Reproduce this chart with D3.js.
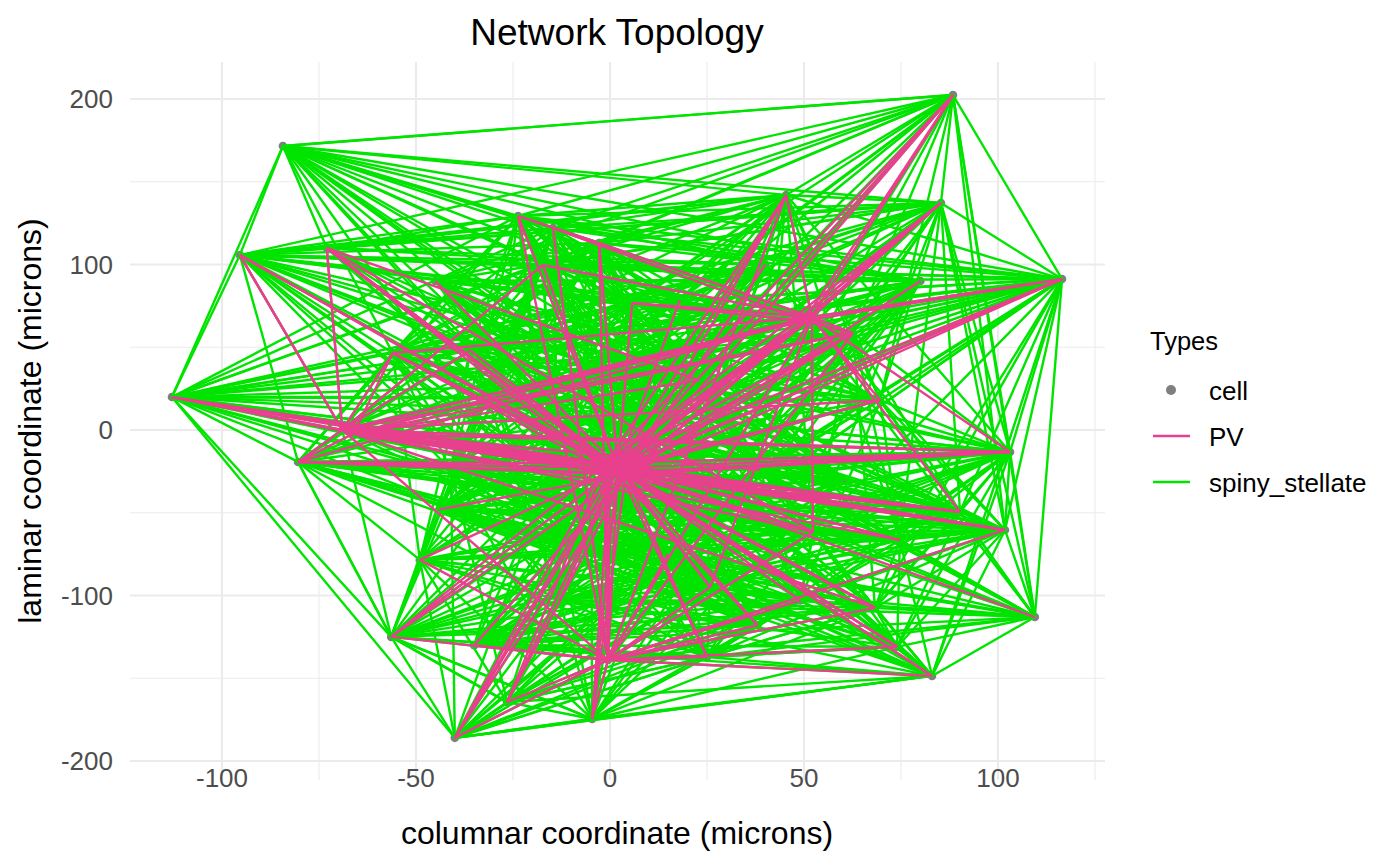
<!DOCTYPE html>
<html><head><meta charset="utf-8">
<script src="https://cdn.jsdelivr.net/npm/d3@7"></script>
<style>body{margin:0;background:#fff}svg{display:block}text{font-family:"Liberation Sans",Arial,sans-serif}</style>
</head><body><div id="chart"></div>
<script>
// node coordinates (microns): columnar (x) and laminar (y)
const nodeX = [88.4,-84.3,-95.4,-112.9,-23.7,-14.7,-2.8,45.4,85.3,116.5,103.1,101.8,109.5,83.0,25.0,-4.6,-40.0,-56.4,-80.4,
  2.0,-0.5,52.0,-69.0,-73.0,-17.3,5.7,62.6,-56.0,90.2,52.3,-26.5,68.3,74.0,25.8,-36,23,-13,38.7,69.6,-41,18,-13,49,-49,74.7,-66,50,0,
  4,-1,-30,30,-20,40,-45,10,60,-44,15,-35,38,80,-5];
const nodeY = [202.4,171.6,105.7,19.9,129.3,122.0,113.0,142.0,137.2,91.2,-13.3,-60.4,-113.0,-148.6,-137.2,-174.6,-186.0,-125.0,-19.3,
  -23.0,-139.0,68.3,0.0,110.0,99.7,76.7,58.6,46.5,-49.5,-61.6,-164.4,-107.5,-131.0,-94.9,48,30,-66,-24,18,-24,78.5,-103,-103,-78.5,-66.5,-2,66,-26,
  -27,-20,20,-50,-40,100,90,10,-30,-48,-75,-130,-118,90,40];

// PV connections: source -> targets
const pvSources = [19,47,48,49,20,21,46,22,45,23,2,4];
const pvTargets = [
  [0,2,3,4,6,7,8,9,10,11,12,13,14,15,16,17,18,20,21,22,23,24,25,26,27,28,29,30,31,32,33,34,38,40,41,42,43,44,45,46],
  [21,46,22,45,26,38,9,8,20,23,27,18,10,28,15,16],
  [0,2,3,7,8,9,10,11,13,14,15,16,17,18,21,22,23,26,27,28,29,30,31,32,33,46,45,61,53,54,57,59,60],
  [3,2,21,46,22,45,26,10,11,28,44,31,9,8,0,7,27,23,18,17,16,20,30,32,60],
  [4,5,6,7,14,15,16,17,21,26,29,30,31,32,33,42,13,11,43,22,58,59,60],
  [0,6,7,8,9,22,26,27,24,25,38,10,28,29,33,45,18],
  [0,8,9,22,45,25,5,26],
  [3,2,18,23,27,24,34,26,28,29,10,11,31,37,38],
  [3,18,27,35,26,28,10,44],
  [22,35,29],
  [22],
  [6]
];

// spiny_stellate connections: source -> targets
const ssSources = [0,1,2,3,4,5,6,7,8,9,10,11,12,13,14,15,16,17,18,24,25,26,27,28,29,30,31,32,33,34,35,36,37,38,39,40,41,42,43,
  50,51,52,53,54,55,56,57,58,59,60,61,62];
const ssTargets = [
  [1,2,4,5,6,7,8,9,10,11,24,25,26,21,38,35,40,19,12],
  [0,2,3,4,5,6,7,8,9,24,25,26,34,35,40,27,19,37,23],
  [3,4,5,6,7,8,9,23,24,25,26,27,34,35,40,19,22,18,38,21,36,39],
  [18,17,16,22,27,34,35,24,25,26,21,38,19,39,10,28,37,11,4,5,6],
  [5,6,7,8,9,23,24,25,27,34,35,40,19,36,39,22,18,41,33,21,26,38],
  [6,7,8,9,24,25,34,35,36,39,19,41,43,17,37,29,40,27],
  [7,8,9,24,25,35,40,36,19,37,41,33,29,38,26,27,34,39,18],
  [8,9,21,26,38,25,40,24,35,19,37,29,10,23,34,27,44],
  [9,10,11,21,26,38,25,35,40,24,34,27,23,37,28,44,12,29],
  [10,11,12,13,21,26,38,28,44,35,40,25,24,34,37,29,31,19,22,18,27],
  [11,12,13,28,44,31,32,38,26,37,29,35,19,36,39,22,18,42,33,14,41],
  [12,13,28,44,31,32,42,37,29,33,36,14,19,39,43,20,41,38,35,22],
  [13,32,31,44,28,42,29,33,14,20,37,38,36,41],
  [14,15,16,20,30,32,31,42,33,41,44,29,36,37],
  [15,16,17,20,30,41,33,42,31,32,36,43,44,29],
  [16,17,30,20,41,43,36,33,42,31,14,32,39],
  [17,30,20,41,43,36,33,14,15,13,42,39],
  [18,43,39,36,41,30,20,33,14,19,29,37,42,31,22,15],
  [22,39,43,36,19,37,29,28,44,10,11,42,33,41,17,31,32,34,27],
  [25,34,35,40,36,39,19,37,41,22,27,38,26,29,43,33],
  [34,35,40,36,37,38,26,19,39,29,41,33,27,22,43],
  [35,37,38,28,29,44,40,36,19,33,31,42,39,34,27,22],
  [34,39,22,18,43,36,19,35,37,38,29,28,41,33],
  [29,44,37,38,31,32,42,33,36,39,35,19,41],
  [33,36,37,42,44,31,41,39,43,35,19,14,20],
  [41,43,36,33,20,39,17,14,42,29],
  [32,42,33,14,36,41,37,29,44,20],
  [42,33,14,20,41,36,29,44],
  [36,41,42,37,39,43,19,35],
  [35,39,40,36,22,27,37,38,41,43,19],
  [36,37,38,39,40,41,42,43,44,19],
  [37,39,41,42,43,44,19],
  [38,39,41,42,44,19],
  [39,40,44,42,28],
  [41,43,42,44,19],
  [41,42,39,36],
  [42,43,44],
  [43,44],
  [44],
  [2,3,4,5,6,7,8,9,10,11,12,13,14,17,18,21,24,25,26,28,29,31,33,36,37,38,41,42,44,56,58,60,61],
  [0,1,2,3,4,5,6,7,8,9,10,12,13,15,16,17,18,22,23,24,27,30,34,39,43,54,57,59,62],
  [0,1,2,3,7,8,9,10,11,12,13,14,21,26,28,31,32,38,44,53,56,60,61,62],
  [1,2,3,4,18,22,23,27,34,39,43,17,16,15,20,30,36,41,57,59,19,11,12],
  [0,7,8,9,10,11,12,13,21,26,28,29,31,32,38,44,56,60,61,14,33,42],
  [0,1,2,3,4,7,8,9,10,11,12,13,14,15,16,17,18,22,23,24,27,28,30,31,32,34,39,43,57,59,60,61],
  [1,2,3,4,5,6,17,18,22,23,24,27,34,39,43,57,59,62,16,15,30],
  [0,7,8,9,10,11,12,13,14,21,26,28,29,31,32,38,44,60,61,42,33,5,6],
  [0,1,2,3,4,7,8,9,10,11,12,13,16,17,18,22,23,27,34,39,43,57,59,61,54],
  [0,7,8,9,10,11,12,13,14,21,26,28,29,31,32,38,44,60,61,42,33,6,25],
  [2,3,4,5,6,16,17,18,22,23,24,27,34,39,43,62,36,41,30],
  [1,2,3,4,5,6,17,18,22,23,24,27,34,39,43,62,36,41,16,15,14,20,30],
  [0,1,3,7,8,9,10,11,12,13,14,15,16,17,18,21,26,28,29,31,32,38,44,42,33,2]
];

const xTicks = [-100,-50,0,50,100];
const yTicks = [-200,-100,0,100,200];
const xMinor = [-75,-25,25,75,125];
const yMinor = [-150,-50,50,150];
const legendTypes = ["cell","PV","spiny_stellate"];
const colPV = "#E8408E", colSS = "#00E400", colCell = "#7F7F7F";

const W = 1400, H = 865;
const P = {l:130, r:1105, t:62, b:780};
const x = d3.scaleLinear().domain([-100,100]).range([222,998]);
const y = d3.scaleLinear().domain([-200,200]).range([761,99]);

const svg = d3.select("#chart").append("svg").attr("width",W).attr("height",H);

// grid
const g = svg.append("g");
g.selectAll(".xm").data(xMinor.filter(v=>x(v)>=P.l&&x(v)<=P.r)).join("line")
  .attr("x1",d=>x(d)).attr("x2",d=>x(d)).attr("y1",P.t).attr("y2",P.b)
  .attr("stroke","#EBEBEB").attr("stroke-width",1.1);
g.selectAll(".ym").data(yMinor).join("line")
  .attr("y1",d=>y(d)).attr("y2",d=>y(d)).attr("x1",P.l).attr("x2",P.r)
  .attr("stroke","#EBEBEB").attr("stroke-width",1.1);
g.selectAll(".xM").data(xTicks).join("line")
  .attr("x1",d=>x(d)).attr("x2",d=>x(d)).attr("y1",P.t).attr("y2",P.b)
  .attr("stroke","#EBEBEB").attr("stroke-width",2.1);
g.selectAll(".yM").data(yTicks).join("line")
  .attr("y1",d=>y(d)).attr("y2",d=>y(d)).attr("x1",P.l).attr("x2",P.r)
  .attr("stroke","#EBEBEB").attr("stroke-width",2.1);

// points
const nodes = nodeX.map((v,i)=>({x:v,y:nodeY[i]}));
svg.append("g").selectAll("circle").data(nodes).join("circle")
  .attr("cx",d=>x(d.x)).attr("cy",d=>y(d.y)).attr("r",4.3).attr("fill",colCell);

function edges(srcs, tgts){
  const out=[];
  srcs.forEach((s,i)=>tgts[i].forEach(t=>out.push([s,t])));
  return out;
}
const ssE = edges(ssSources, ssTargets), pvE = edges(pvSources, pvTargets);
svg.append("g").selectAll("line").data(ssE).join("line")
  .attr("x1",d=>x(nodeX[d[0]])).attr("y1",d=>y(nodeY[d[0]]))
  .attr("x2",d=>x(nodeX[d[1]])).attr("y2",d=>y(nodeY[d[1]]))
  .attr("stroke",colSS).attr("stroke-width",2.4);
svg.append("g").selectAll("line").data(pvE).join("line")
  .attr("x1",d=>x(nodeX[d[0]])).attr("y1",d=>y(nodeY[d[0]]))
  .attr("x2",d=>x(nodeX[d[1]])).attr("y2",d=>y(nodeY[d[1]]))
  .attr("stroke",colPV).attr("stroke-width",2.4);

// axes labels
svg.append("g").selectAll("text").data(xTicks).join("text")
  .attr("x",d=>x(d)).attr("y",787).attr("text-anchor","middle")
  .attr("font-size",26).attr("fill","#4D4D4D").text(d=>d);
svg.append("g").selectAll("text").data(yTicks).join("text")
  .attr("x",113).attr("y",d=>y(d)+9).attr("text-anchor","end")
  .attr("font-size",26).attr("fill","#4D4D4D").text(d=>d);

svg.append("text").attr("x",617).attr("y",45).attr("text-anchor","middle")
  .attr("font-size",37).attr("fill","#000").text("Network Topology");
svg.append("text").attr("x",617).attr("y",844).attr("text-anchor","middle")
  .attr("font-size",32).attr("fill","#000").text("columnar coordinate (microns)");
svg.append("text").attr("transform","translate(41,421) rotate(-90)").attr("text-anchor","middle")
  .attr("font-size",32).attr("fill","#000").text("laminar coordinate (microns)");

// legend
const lg = svg.append("g");
lg.append("text").attr("x",1150).attr("y",350).attr("font-size",25.5).text("Types");
const rowsY = [390,436,482];
lg.append("circle").attr("cx",1171).attr("cy",rowsY[0]).attr("r",5).attr("fill",colCell);
lg.append("line").attr("x1",1153).attr("x2",1190).attr("y1",rowsY[1]).attr("y2",rowsY[1]).attr("stroke",colPV).attr("stroke-width",2.6);
lg.append("line").attr("x1",1153).attr("x2",1190).attr("y1",rowsY[2]).attr("y2",rowsY[2]).attr("stroke",colSS).attr("stroke-width",2.6);
lg.selectAll(".lt").data(legendTypes).join("text").attr("x",1209).attr("y",(d,i)=>rowsY[i]+9.5)
  .attr("font-size",26).text(d=>d);
</script></body></html>
